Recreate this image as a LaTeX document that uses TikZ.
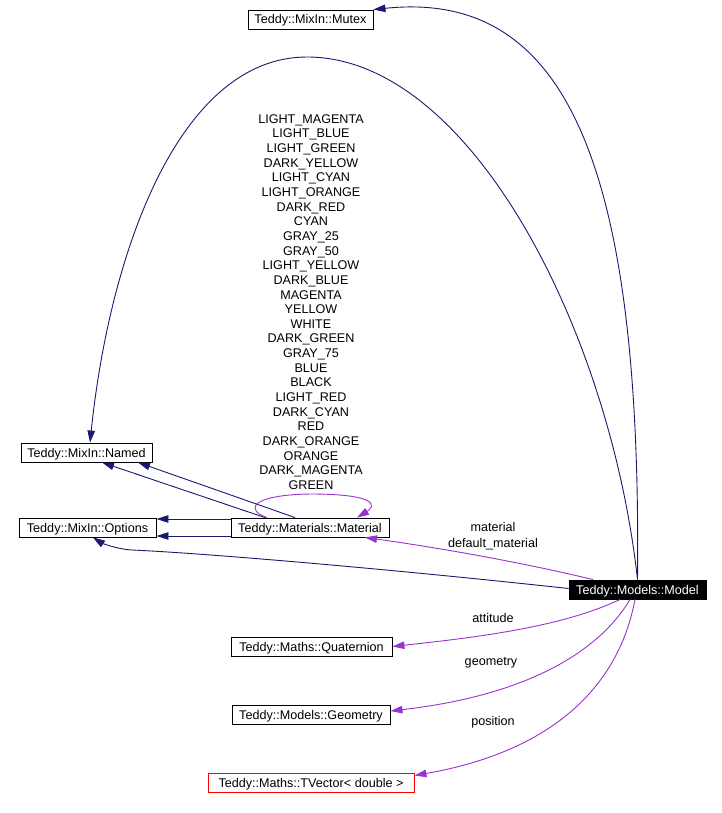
\documentclass[tikz,border=0pt]{standalone}
\usepackage{fontspec}
\setmainfont{Liberation Sans}
\usetikzlibrary{arrows.meta,calc}
\definecolor{navy}{HTML}{191970}
\definecolor{orchid}{HTML}{9A32CD}
\definecolor{boxred}{HTML}{FF0000}
\begin{document}
\begin{tikzpicture}[x=1pt,y=-1pt,
  cls/.style={draw=black, line width=0.9pt, fill=white, inner xsep=4pt, inner ysep=0pt,
    text height=10pt, text depth=1pt,
    minimum height=19pt, font=\fontsize{12.6}{14}\selectfont},
  inh/.style={navy, line width=0.9pt, -{Triangle[length=12pt,width=7.5pt]}},
  usage/.style={orchid, line width=0.9pt, -{Triangle[length=12pt,width=7.5pt]}},
  lbl/.style={font=\fontsize{12.6}{14}\selectfont, inner sep=0pt, text=black}]
\useasboundingbox (0,0) rectangle (721,813);

% nodes
\node[cls, minimum width=125pt] (mutex) at (310.5,19.5) {Teddy::MixIn::Mutex};
\node[cls, minimum width=131pt] (named) at (86.5,452.5) {Teddy::MixIn::Named};
\node[cls, minimum width=137pt] (options) at (87.5,527.5) {Teddy::MixIn::Options};
\node[cls, minimum width=158pt] (material) at (310,527.5) {Teddy::Materials::Material};
\node[cls, minimum width=137pt, fill=black, text=white] (model) at (637.5,589.5) {Teddy::Models::Model};
\node[cls, minimum width=161pt] (quat) at (311.5,646.5) {Teddy::Maths::Quaternion};
\node[cls, minimum width=158pt] (geom) at (311,714.5) {Teddy::Models::Geometry};
\node[cls, minimum width=206pt, draw=boxred] (tvec) at (311,782.5) {Teddy::Maths::TVector< double >};

% Model -> Mutex
\draw[inh] (model.north) .. controls (642,150) and (560,-10) .. (mutex.north east);
% Model -> Named (big arc)
\coordinate (arcTop) at (307,57);
\draw[inh] (model.north) .. controls (610,330) and (470,57) .. (arcTop)
  .. controls (180,57) and (110,250) .. ($(named.north)+(3.5,0)$);

% Material -> Named (two)
\draw[inh] ($(material.north)+(-45,0)$) -- ($(named.south)+(15.5,0)$);
\draw[inh] ($(material.north)+(-15,0)$) -- ($(named.south)+(51.5,0)$);
% Material -> Options (two)
\draw[inh] ($(material.west)+(0,-8.5)$) -- ($(options.east)+(0,-8.5)$);
\draw[inh] ($(material.west)+(0,8.5)$) -- ($(options.east)+(0,8.5)$);
% Model -> Options
\coordinate (optBend) at (132,550);
\draw[inh] ($(model.west)+(0,-1)$) .. controls (380,568) and (200,553) .. (optBend)
  .. controls (115,549) and (100,542) .. ($(options.south)+(5.5,0)$);

% Material self loop
\coordinate (loopTop) at (310,494);
\draw[usage] ($(material.north)+(-43,0)$) .. controls (245,510) and (250,495) .. (loopTop)
  .. controls (378,494) and (376,506) .. ($(material.north)+(47,0)$);
\node[lbl, align=center, font=\fontsize{12.6}{14.64}\selectfont] (enums) at (311,302)
 {LIGHT\_MAGENTA\\LIGHT\_BLUE\\LIGHT\_GREEN\\DARK\_YELLOW\\LIGHT\_CYAN\\LIGHT\_ORANGE\\DARK\_RED\\CYAN\\GRAY\_25\\GRAY\_50\\LIGHT\_YELLOW\\DARK\_BLUE\\MAGENTA\\YELLOW\\WHITE\\DARK\_GREEN\\GRAY\_75\\BLUE\\BLACK\\LIGHT\_RED\\DARK\_CYAN\\RED\\DARK\_ORANGE\\ORANGE\\DARK\_MAGENTA\\GREEN};

% Model -> Material
\draw[usage] ($(model.north)+(-44.5,0)$) .. controls (520,562) and (440,548) .. ($(material.south)+(55,0)$);
\node[lbl, align=center, font=\fontsize{12.6}{16}\selectfont] (matlbl) at (493,536) {material\\default\_material};

% Model -> Quaternion
\draw[usage] ($(model.south)+(-17.5,0)$) .. controls (560,628) and (470,638) .. (quat.east);
\node[lbl] (attlbl) at (493,618) {attitude};
% Model -> Geometry
\draw[usage] ($(model.south)+(-7.5,0)$) .. controls (600,650) and (530,695) .. ($(geom.east)+(0,-3.5)$);
\node[lbl] (geolbl) at (491,663) {geometry};
% Model -> TVector
\draw[usage] ($(model.south)+(-2.5,0)$) .. controls (620,680) and (560,750) .. ($(tvec.east)+(0,-7)$);
\node[lbl] (poslbl) at (493,722) {position};
\end{tikzpicture}
\end{document}
